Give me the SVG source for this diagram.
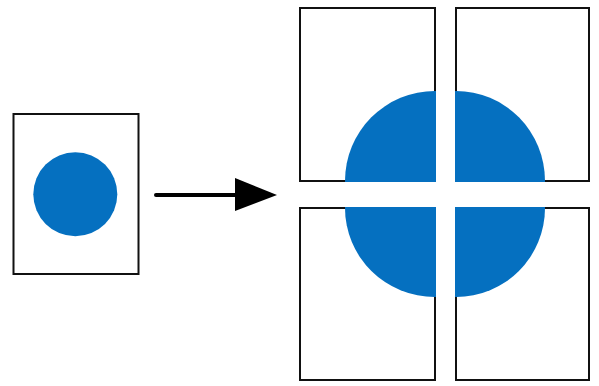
<svg xmlns="http://www.w3.org/2000/svg" width="599" height="386" viewBox="0 0 599 386">
<style>
.page{fill:#fff;stroke:#111;stroke-width:2}
.blue{fill:#0570C0}
</style>
<rect width="599" height="386" fill="#fff"/>
<g id="source">
<rect class="page" x="13.5" y="114" width="125" height="160"/>
<circle class="blue" cx="75.3" cy="194.3" r="42"/>
</g>
<g id="connectors">
<line x1="156" y1="195" x2="237" y2="195" stroke="#000" stroke-width="4" stroke-linecap="round"/>
<polygon points="235,178 277,195 235,211" fill="#000"/>
</g>
<g id="tile-tl">
<rect class="page" x="300" y="8" width="135" height="173"/>
<path class="blue" d="M436,182 L345,182 L345,181 A90,90 0 0 1 435,91 L436,91 Z"/>
</g>
<g id="tile-tr">
<rect class="page" x="456" y="8" width="133" height="173"/>
<path class="blue" d="M455,182 L455,91 L456,91 A89,90 0 0 1 545,181 L545,182 Z"/>
</g>
<g id="tile-bl">
<rect class="page" x="300" y="208" width="135" height="172"/>
<path class="blue" d="M436,207 L436,297 L435,297 A90,89 0 0 1 345,208 L345,207 Z"/>
</g>
<g id="tile-br">
<rect class="page" x="456" y="208" width="133" height="172"/>
<path class="blue" d="M455,207 L545,207 L545,208 A89,89 0 0 1 456,297 L455,297 Z"/>
</g>
</svg>
